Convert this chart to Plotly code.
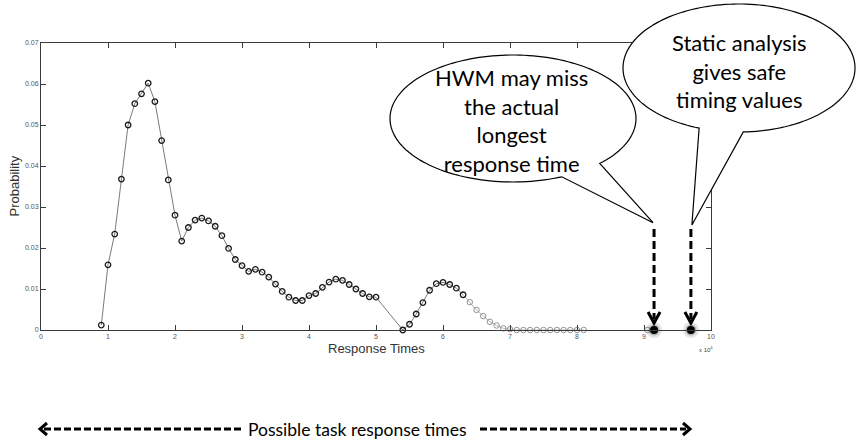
import numpy as np
import plotly.graph_objects as go

# Measured response-time distribution (x in units of 10^4)
dark_x = [0.9, 1.0, 1.1, 1.2, 1.3, 1.4, 1.5, 1.6, 1.7, 1.8, 1.9, 2.0, 2.1, 2.2, 2.3,
          2.4, 2.5, 2.6, 2.7, 2.8, 2.9, 3.0, 3.1, 3.2, 3.3, 3.4, 3.5, 3.6, 3.7, 3.8,
          3.9, 4.0, 4.1, 4.2, 4.3, 4.4, 4.5, 4.6, 4.7, 4.8, 4.9, 5.0,
          5.4, 5.5, 5.6, 5.7, 5.8, 5.9, 6.0, 6.1, 6.2, 6.3]
dark_y = [0.0012, 0.0159, 0.0234, 0.0368, 0.0500, 0.0552, 0.0576, 0.0602, 0.0557,
          0.0462, 0.0366, 0.0280, 0.0217, 0.0250, 0.0268, 0.0273, 0.0266, 0.0253,
          0.0230, 0.0199, 0.0172, 0.0157, 0.0143, 0.0148, 0.0141, 0.0129, 0.0112,
          0.0094, 0.0080, 0.0072, 0.0072, 0.0084, 0.0089, 0.0104, 0.0117, 0.0124,
          0.0121, 0.0111, 0.0100, 0.0089, 0.0081, 0.0080,
          0.0000, 0.0014, 0.0039, 0.0067, 0.0097, 0.0113, 0.0116, 0.0111, 0.0102,
          0.0086]

# Rarely observed tail of the distribution
tail_x = [6.4, 6.5, 6.6, 6.7, 6.8, 6.9, 7.0, 7.1, 7.2, 7.3, 7.4, 7.5, 7.6, 7.7,
          7.8, 7.9, 8.0, 8.1]
tail_y = [0.0068, 0.0049, 0.0034, 0.0020, 0.0011, 0.0004, 0.0002, 0.0, 0.0, 0.0,
          0.0, 0.0, 0.0, 0.0, 0.0, 0.0, 0.0, 0.0]
stray_x = [9.05]
stray_y = [0.0]

# High-water mark and static bound
marks_x = [9.15, 9.70]
marks_y = [0.0, 0.0]

x_ticks = list(range(0, 11))
y_ticks = [0, 0.01, 0.02, 0.03, 0.04, 0.05, 0.06, 0.07]
y_ticklabels = ["0", "0.01", "0.02", "0.03", "0.04", "0.05", "0.06", "0.07"]

hwm_text = "HWM may miss<br>the actual<br>longest<br>response time"
static_text = "Static analysis<br>gives safe<br>timing values"
span_text = "Possible task response times"

# Plot-area geometry in pixels
L, T, W, H = 41, 43, 670, 287
FIG_W, FIG_H = 856, 442
X_RANGE = (0, 10)


def px(x):
    return (x - L) / W


def py(y):
    return (T + H - y) / H


def data_px(xv):
    return L + (xv - X_RANGE[0]) / (X_RANGE[1] - X_RANGE[0]) * W


def poly_path(points, close=True):
    s = "M " + " L ".join(f"{px(x):.5f},{py(y):.5f}" for x, y in points)
    return s + (" Z" if close else "")


def callout_path(cx, cy, rx, ry, base1, base2, tip, n=160):
    t1 = np.arctan2((base1[1] - cy) / ry, (base1[0] - cx) / rx)
    t2 = np.arctan2((base2[1] - cy) / ry, (base2[0] - cx) / rx)
    lo, hi = sorted([t1, t2])
    ts = np.linspace(hi, lo + 2 * np.pi, n)
    pts = [tip] + [(cx + rx * np.cos(t), cy + ry * np.sin(t)) for t in ts] + [tip]
    return poly_path(pts)


fig = go.Figure()

# distribution line segments
fig.add_trace(go.Scatter(x=dark_x, y=dark_y, mode="lines",
                         line=dict(color="#7a7a7a", width=1), hoverinfo="skip",
                         cliponaxis=False))
fig.add_trace(go.Scatter(x=[dark_x[-1]] + tail_x, y=[dark_y[-1]] + tail_y, mode="lines",
                         line=dict(color="#b5b5b5", width=1), hoverinfo="skip",
                         cliponaxis=False))
# distribution markers
fig.add_trace(go.Scatter(x=dark_x, y=dark_y, mode="markers",
                         marker=dict(symbol="circle-open", size=5.5, color="#1a1a1a",
                                     line=dict(width=1.3, color="#1a1a1a")),
                         cliponaxis=False))
fig.add_trace(go.Scatter(x=tail_x + stray_x, y=tail_y + stray_y, mode="markers",
                         marker=dict(symbol="circle-open", size=5.5, color="#939393",
                                     line=dict(width=1, color="#939393")),
                         cliponaxis=False))
# HWM / bound dots with soft shadow
fig.add_trace(go.Scatter(x=marks_x, y=marks_y, mode="markers",
                         marker=dict(size=16, color="rgba(0,0,0,0.10)", line=dict(width=0)),
                         cliponaxis=False, hoverinfo="skip"))
fig.add_trace(go.Scatter(x=marks_x, y=marks_y, mode="markers",
                         marker=dict(size=11, color="rgba(0,0,0,0.22)", line=dict(width=0)),
                         cliponaxis=False, hoverinfo="skip"))
fig.add_trace(go.Scatter(x=marks_x, y=marks_y, mode="markers",
                         marker=dict(size=8, color="black", line=dict(width=0)),
                         cliponaxis=False))

shapes = []

# speech bubbles
shapes.append(dict(type="path", xref="paper", yref="paper", layer="above",
                   path=callout_path(513, 118.5, 123, 63.5, (599.3, 163.3), (561.7, 176.7),
                                     (data_px(marks_x[0]) - 1, 222.7)),
                   fillcolor="white", line=dict(color="black", width=1.2)))
shapes.append(dict(type="path", xref="paper", yref="paper", layer="above",
                   path=callout_path(739, 68, 116, 64, (699, 128.3), (743.3, 131.7),
                                     (data_px(marks_x[1]) + 1, 225)),
                   fillcolor="white", line=dict(color="black", width=1.2)))

# dashed pointers down to the two dots
for xv in marks_x:
    xp = data_px(xv)
    shapes.append(dict(type="line", xref="paper", yref="paper", layer="above",
                       x0=px(xp), x1=px(xp), y0=py(229), y1=py(319),
                       line=dict(color="black", width=3, dash="8px,4px")))
    shapes.append(dict(type="path", xref="paper", yref="paper", layer="above",
                       path=poly_path([(xp - 6, 312), (xp, 323), (xp + 6, 312)], close=False),
                       fillcolor="rgba(0,0,0,0)", line=dict(color="black", width=3)))

# double-headed dashed span arrow
yb = 429
shapes.append(dict(type="line", xref="paper", yref="paper",
                   x0=px(44), x1=px(241), y0=py(yb), y1=py(yb),
                   line=dict(color="black", width=3, dash="7px,3px")))
shapes.append(dict(type="line", xref="paper", yref="paper",
                   x0=px(480), x1=px(686), y0=py(yb), y1=py(yb),
                   line=dict(color="black", width=3, dash="7px,3px")))
shapes.append(dict(type="path", xref="paper", yref="paper",
                   path=poly_path([(47, yb - 6), (40, yb), (47, yb + 6)], close=False),
                   fillcolor="rgba(0,0,0,0)", line=dict(color="black", width=3)))
shapes.append(dict(type="path", xref="paper", yref="paper",
                   path=poly_path([(683, yb - 6), (690, yb), (683, yb + 6)], close=False),
                   fillcolor="rgba(0,0,0,0)", line=dict(color="black", width=3)))

callout_font = dict(family="Lato, Open Sans, sans-serif", size=22, color="black")
axis_font = "Liberation Sans, Arial, sans-serif"


def label(text, x, y, font, **kw):
    return dict(text=text, x=px(x), y=py(y), xref="paper", yref="paper",
                xanchor="center", yanchor="middle", showarrow=False, font=font, **kw)


annotations = [
    label(hwm_text, 511, 120.5, callout_font, align="center"),
    label(static_text, 739, 71, callout_font, align="center"),
    label(span_text, 357.5, yb,
          dict(family="Lato, Open Sans, sans-serif", size=17.5, color="black")),
    label("Probability", 14, 186.5, dict(family=axis_font, size=13, color="#333"),
          textangle=-90),
    label("Response Times", 376, 348, dict(family=axis_font, size=13, color="#333")),
    label("x 10<sup>4</sup>", 706, 349, dict(family=axis_font, size=6, color="#444")),
]

axis_common = dict(showgrid=False, zeroline=False, showline=True, linecolor="#3a3a3a",
                   linewidth=1, mirror="ticks", ticks="inside", ticklen=5,
                   tickcolor="#3a3a3a", tickwidth=1,
                   tickfont=dict(family=axis_font, size=7, color="#555"))

fig.update_layout(
    width=FIG_W, height=FIG_H,
    margin=dict(l=L, r=FIG_W - L - W, t=T, b=FIG_H - T - H),
    paper_bgcolor="white", plot_bgcolor="white",
    showlegend=False,
    xaxis=dict(range=list(X_RANGE), tickvals=x_ticks, **axis_common),
    yaxis=dict(range=[0, 0.07], tickvals=y_ticks, ticktext=y_ticklabels, **axis_common),
    shapes=shapes,
    annotations=annotations,
)

fig.write_html("out.html")
